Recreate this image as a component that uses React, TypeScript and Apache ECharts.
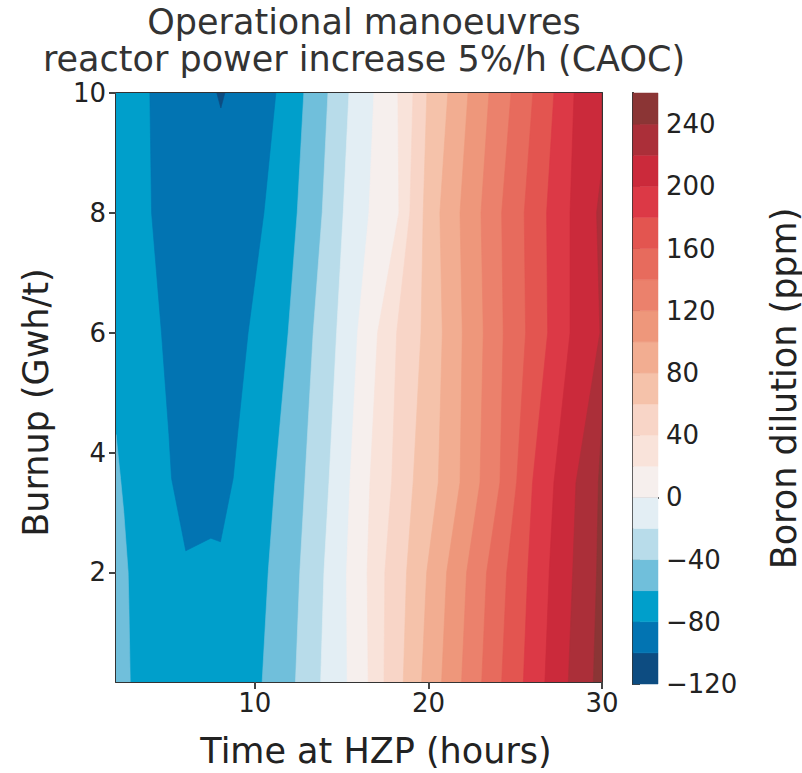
import React, { useEffect, useRef } from 'react';
import * as echarts from 'echarts';

// ---- axes ----
const xMin = 2;
const xMax = 30;
const yMin = 0.17;
const yMax = 10;
const xTicks = [10, 20, 30];
const yTicks = [2, 4, 6, 8, 10];
const cbTicks = [-120, -80, -40, 0, 40, 80, 120, 160, 200, 240];
const titleLines = ['Operational manoeuvres', 'reactor power increase 5%/h (CAOC)'];

// ---- colour levels (ppm) ----
const levelEdges = [-120, -100, -80, -60, -40, -20, 0, 20, 40, 60, 80, 100, 120, 140, 160, 180, 200, 220, 240, 260];
const bandColors = [
  '#0d4c81', '#0274b2', '#009fcb', '#70bfdb', '#b8dcea', '#e3eef4', '#f6efed',
  '#f9e3da', '#f8d5c7', '#f5c2aa', '#f2ad91', '#ee977b', '#eb816c', '#e76b5d',
  '#e35550', '#dc3946', '#cb2a3b', '#ab2f39', '#8b3535',
];

// ---- contour lines ----
// burnup rows (GWh/t) at which each contour's time (h) was read
const burnupRows = [0.17, 2, 3.5, 6, 8, 10];
const contourLevels = [-60, -40, -20, 0, 20, 40, 60, 80, 100, 120, 140, 160, 180, 200, 220, 240];
const contourTimes = [
  [10.42, 10.77, 11.15, 11.92, 12.44, 12.82],
  [12.34, 12.59, 12.88, 13.36, 13.88, 14.21],
  [13.79, 13.98, 14.27, 14.71, 15.09, 15.42],
  [15.32, 15.28, 15.48, 15.92, 16.57, 16.86],
  [16.53, 16.47, 16.63, 17.07, 18.3, 18.24],
  [17.44, 17.49, 17.88, 18.17, 18.93, 19.11],
  [18.55, 18.74, 19.12, 19.57, 19.7, 19.91],
  [19.61, 19.9, 20.57, 20.8, 20.66, 21.12],
  [20.76, 21.05, 21.82, 21.95, 21.82, 22.28],
  [21.91, 22.2, 22.97, 23.16, 23.03, 23.49],
  [23.07, 23.35, 24.12, 24.31, 24.22, 24.76],
  [24.22, 24.51, 25.08, 25.6, 25.52, 26.02],
  [25.47, 25.72, 26.0, 26.87, 26.81, 27.23],
  [26.71, 26.96, 27.23, 28.16, 28.16, 28.39],
  [28.06, 28.31, 28.5, 29.88, 29.69, 30.5],
  [29.5, 29.69, 29.79, 30.3, 31, 31],
];
// closed region below -80 ppm (time, burnup)
const darkBlueContour = [
  [3.95, 10], [4.05, 8], [4.62, 6], [5.05, 4.3], [5.2, 3.57], [6.02, 2.36],
  [7.46, 2.57], [8.02, 2.51], [8.75, 3.57], [9.0, 4.3], [9.61, 6], [10.52, 8], [11.21, 10],
];
// small region below -100 ppm
const navyContour = [[7.81, 10], [8.04, 9.75], [8.27, 10]];
// region above -60 ppm along the left edge
const leftStripContour = [
  [2, 0.17], [2.82, 0.17], [2.74, 1.5], [2.7, 2], [2.45, 3], [2.26, 3.57], [2, 4.3],
];

const FONT = 'DejaVu Sans';
const TXT = '#222';
const AX = '#333';

function bandIndex(level: number) {
  return levelEdges.indexOf(level);
}

export default function App() {
  const ref = useRef<HTMLDivElement>(null);
  useEffect(() => {
    document.body.style.margin = '0';
    if (!ref.current) return;
    const chart = echarts.init(ref.current, null, { renderer: 'svg' });

    const layers: { pts: number[][]; color: string }[] = [];
    layers.push({
      pts: [[xMin, yMin], [xMax, yMin], [xMax, yMax], [xMin, yMax]],
      color: bandColors[bandIndex(-80)],
    });
    layers.push({ pts: darkBlueContour, color: bandColors[bandIndex(-100)] });
    layers.push({ pts: navyContour, color: bandColors[bandIndex(-120)] });
    layers.push({ pts: leftStripContour, color: bandColors[bandIndex(-60)] });
    contourLevels.forEach((lv, j) => {
      const pts = burnupRows.map((y, k) => [contourTimes[j][k], y]);
      pts.push([Math.max(xMax, contourTimes[j][burnupRows.length - 1]), yMax]);
      pts.push([xMax, yMax]);
      pts.push([xMax, yMin]);
      layers.push({ pts, color: bandColors[bandIndex(lv)] });
    });

    const frameAxis = { show: true, axisLine: { show: true, lineStyle: { color: AX, width: 2 } }, axisTick: { show: false }, axisLabel: { show: false }, splitLine: { show: false } };
    const labelStyle = { fontSize: 26, color: TXT, fontFamily: FONT };
    const tickStyle = { length: 7, lineStyle: { color: '#444', width: 2 } };

    chart.setOption({
      animation: false,
      graphic: titleLines.map((t, i) => ({
        type: 'text',
        x: 364,
        y: 4 + i * 37,
        style: {
          text: t,
          font: `35px "${FONT}"`,
          fill: '#333',
          textAlign: 'center',
          textVerticalAlign: 'top',
          lineHeight: 35,
        },
      })),
      grid: [
        { left: 116, top: 93, width: 486, height: 591 },
        { left: 633, top: 93, width: 25, height: 591 },
      ],
      xAxis: [
        {
          gridIndex: 0, type: 'value', min: xMin, max: xMax, position: 'bottom',
          axisLine: { show: true, lineStyle: { color: AX, width: 2 } },
          axisTick: { show: true, customValues: xTicks, ...tickStyle },
          axisLabel: { customValues: xTicks, margin: 8, ...labelStyle },
          splitLine: { show: false },
          name: 'Time at HZP (hours)', nameLocation: 'middle', nameGap: 51,
          nameTextStyle: { fontSize: 35, color: TXT, fontFamily: FONT, padding: [0, 0, 0, 34] },
        },
        { gridIndex: 0, type: 'value', min: xMin, max: xMax, position: 'top', ...frameAxis },
        { gridIndex: 1, type: 'value', min: 0, max: 1, position: 'bottom', ...frameAxis },
        { gridIndex: 1, type: 'value', min: 0, max: 1, position: 'top', ...frameAxis },
      ],
      yAxis: [
        {
          gridIndex: 0, type: 'value', min: yMin, max: yMax, position: 'left',
          axisLine: { show: true, lineStyle: { color: AX, width: 2 } },
          axisTick: { show: true, customValues: yTicks, ...tickStyle },
          axisLabel: { customValues: yTicks, margin: 10, ...labelStyle },
          splitLine: { show: false },
          name: 'Burnup (Gwh/t)', nameLocation: 'middle', nameGap: 63, nameRotate: 90,
          nameTextStyle: { fontSize: 35, color: TXT, fontFamily: FONT, padding: [0, 30, 0, 0] },
        },
        { gridIndex: 0, type: 'value', min: yMin, max: yMax, position: 'right', ...frameAxis },
        {
          gridIndex: 1, type: 'value', min: -120, max: 260, position: 'right',
          axisLine: { show: true, lineStyle: { color: AX, width: 2 } },
          axisTick: { show: true, customValues: cbTicks, ...tickStyle },
          axisLabel: {
            customValues: cbTicks, margin: 8, ...labelStyle,
            formatter: (v: number) => (v < 0 ? '\u2212' + Math.abs(v) : String(v)),
          },
          splitLine: { show: false },
          name: 'Boron dilution (ppm)', nameLocation: 'middle', nameGap: 108, nameRotate: 90,
          nameTextStyle: { fontSize: 35, color: TXT, fontFamily: FONT },
        },
        { gridIndex: 1, type: 'value', min: -120, max: 260, position: 'left', ...frameAxis },
      ],
      series: [
        {
          type: 'custom',
          xAxisIndex: 0,
          yAxisIndex: 0,
          clip: true,
          silent: true,
          data: layers.map((_, i) => [xMin, yMin, i]),
          renderItem: (params: any, api: any) => {
            const layer = layers[params.dataIndex];
            return {
              type: 'polygon',
              shape: { points: layer.pts.map((p) => api.coord(p)) },
              style: { fill: layer.color, stroke: layer.color, lineWidth: 0.6 },
            };
          },
        },
        {
          type: 'custom',
          xAxisIndex: 2,
          yAxisIndex: 2,
          silent: true,
          data: bandColors.map((_, i) => [0, levelEdges[i], levelEdges[i + 1]]),
          renderItem: (params: any, api: any) => {
            const top = api.coord([0, api.value(2)]);
            const bot = api.coord([1, api.value(1)]);
            return {
              type: 'rect',
              shape: { x: top[0], y: top[1], width: bot[0] - top[0], height: bot[1] - top[1] },
              style: { fill: bandColors[params.dataIndex], stroke: bandColors[params.dataIndex], lineWidth: 0.5 },
            };
          },
        },
      ],
    });
    return () => chart.dispose();
  }, []);
  return <div ref={ref} style={{ width: 802, height: 773 }} />;
}
